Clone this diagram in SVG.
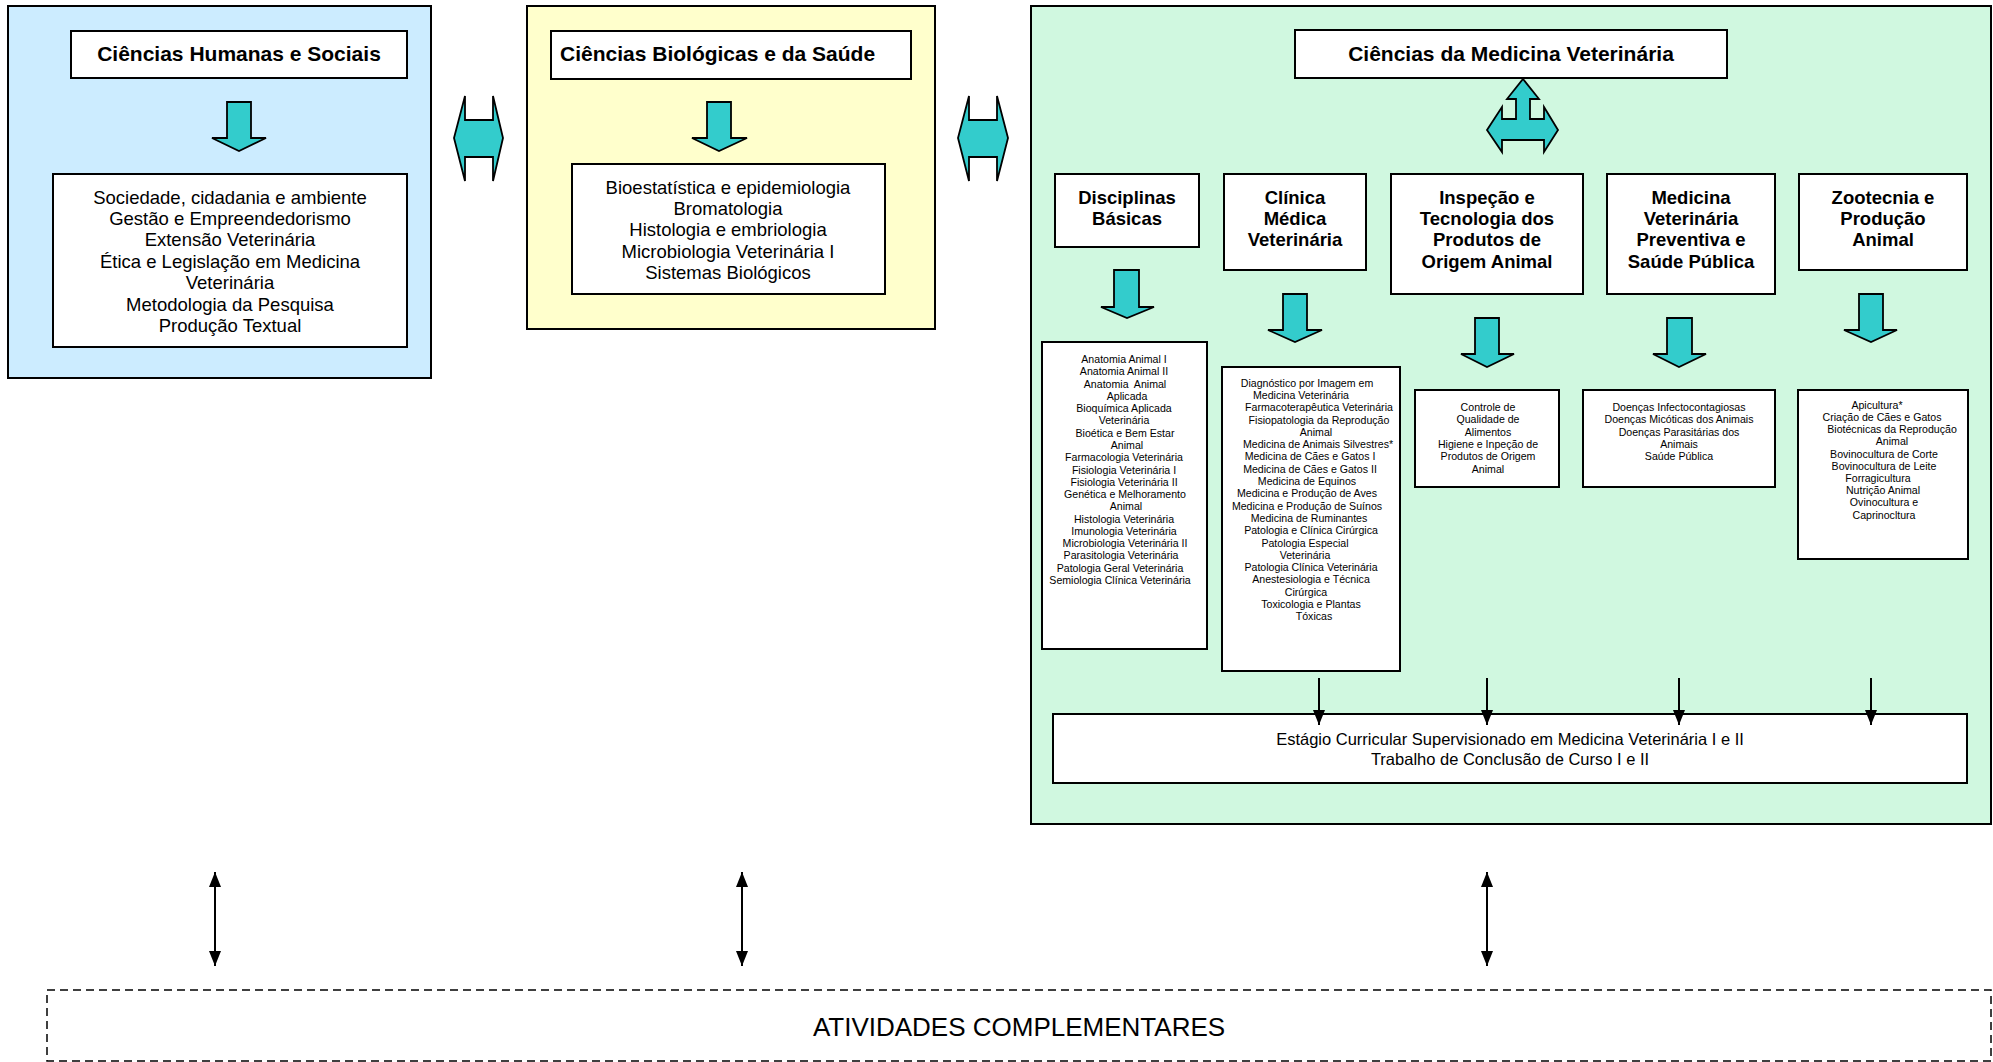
<svg xmlns="http://www.w3.org/2000/svg" width="1993" height="1062" viewBox="0 0 1993 1062">
<style>
text{font-family:"Liberation Sans",Arial,sans-serif;fill:#000}
.panel{stroke:#000;stroke-width:2}
.box{fill:#fff;stroke:#000;stroke-width:2}
.t{font-size:21px;font-weight:bold}
.h{font-size:18.5px;font-weight:bold;text-anchor:middle}
.b{font-size:18.5px;text-anchor:middle}
.s{font-size:10.6px;text-anchor:middle}
.e{font-size:16.5px;text-anchor:middle}
.big{font-size:26px;text-anchor:middle}
.ba{fill:#33CCCC;stroke:#000;stroke-width:1.8;stroke-linejoin:miter}
.ln{stroke:#000;stroke-width:2;fill:none}
</style>
<defs>
<marker id="ah" viewBox="0 0 15 12" refX="15" refY="6" markerWidth="7.5" markerHeight="6" markerUnits="strokeWidth" orient="auto-start-reverse">
<path d="M0,0 L15,6 L0,12 Z" fill="#000"/>
</marker>
</defs>

<g id="panel-humanas">
<rect class="panel" x="8" y="6" width="423" height="372" fill="#CCECFF"/>
<rect class="box" x="71" y="31" width="336" height="47"/>
<text class="t" x="239" y="61" text-anchor="middle">Ciências Humanas e Sociais</text>
<rect class="box" x="53" y="174" width="354" height="173"/>
<text class="b" x="230" y="203.5">Sociedade, cidadania e ambiente</text>
<text class="b" x="230" y="224.9">Gestão e Empreendedorismo</text>
<text class="b" x="230" y="246.3">Extensão Veterinária</text>
<text class="b" x="230" y="267.7">Ética e Legislação em Medicina</text>
<text class="b" x="230" y="289.1">Veterinária</text>
<text class="b" x="230" y="310.5">Metodologia da Pesquisa</text>
<text class="b" x="230" y="331.9">Produção Textual</text>
</g>

<g id="panel-biologicas">
<rect class="panel" x="527" y="6" width="408" height="323" fill="#FFFFCC"/>
<rect class="box" x="551" y="31" width="360" height="48"/>
<text class="t" x="560" y="61">Ciências Biológicas e da Saúde</text>
<rect class="box" x="572" y="164" width="313" height="130"/>
<text class="b" x="728" y="193.5">Bioestatística e epidemiologia</text>
<text class="b" x="728" y="214.9">Bromatologia</text>
<text class="b" x="728" y="236.3">Histologia e embriologia</text>
<text class="b" x="728" y="257.7">Microbiologia Veterinária I</text>
<text class="b" x="728" y="279.1">Sistemas Biológicos</text>
</g>

<g id="panel-medvet">
<rect class="panel" x="1031" y="6" width="960" height="818" fill="#D0F8E0"/>
<rect class="box" x="1295" y="30" width="432" height="48"/>
<text class="t" x="1511" y="61" text-anchor="middle">Ciências da Medicina Veterinária</text>
</g>

<g id="node-basicas">
<rect class="box" x="1055" y="174" width="144" height="73"/>
<text class="h" x="1127" y="203.5">Disciplinas</text>
<text class="h" x="1127" y="224.9">Básicas</text>
</g>
<g id="node-clinica">
<rect class="box" x="1224" y="174" width="142" height="96"/>
<text class="h" x="1295" y="203.5">Clínica</text>
<text class="h" x="1295" y="224.9">Médica</text>
<text class="h" x="1295" y="246.3">Veterinária</text>
</g>
<g id="node-inspecao">
<rect class="box" x="1391" y="174" width="192" height="120"/>
<text class="h" x="1487" y="203.5">Inspeção e</text>
<text class="h" x="1487" y="224.9">Tecnologia dos</text>
<text class="h" x="1487" y="246.3">Produtos de</text>
<text class="h" x="1487" y="267.7">Origem Animal</text>
</g>
<g id="node-preventiva">
<rect class="box" x="1607" y="174" width="168" height="120"/>
<text class="h" x="1691" y="203.5">Medicina</text>
<text class="h" x="1691" y="224.9">Veterinária</text>
<text class="h" x="1691" y="246.3">Preventiva e</text>
<text class="h" x="1691" y="267.7">Saúde Pública</text>
</g>
<g id="node-zootecnia">
<rect class="box" x="1799" y="174" width="168" height="96"/>
<text class="h" x="1883" y="203.5">Zootecnia e</text>
<text class="h" x="1883" y="224.9">Produção</text>
<text class="h" x="1883" y="246.3">Animal</text>
</g>

<g id="list-basicas">
<rect class="box" x="1042" y="342" width="165" height="307"/>
<text class="s" x="1124" y="363.1">Anatomia Animal I</text>
<text class="s" x="1124" y="375.4">Anatomia Animal II</text>
<text class="s" x="1125" y="387.6" xml:space="preserve">Anatomia  Animal</text>
<text class="s" x="1127" y="399.9">Aplicada</text>
<text class="s" x="1124" y="412.2">Bioquímica Aplicada</text>
<text class="s" x="1124" y="424.4">Veterinária</text>
<text class="s" x="1125" y="436.7">Bioética e Bem Estar</text>
<text class="s" x="1127" y="448.9">Animal</text>
<text class="s" x="1124" y="461.2">Farmacologia Veterinária</text>
<text class="s" x="1124" y="473.5">Fisiologia Veterinária I</text>
<text class="s" x="1124" y="485.7">Fisiologia Veterinária II</text>
<text class="s" x="1125" y="498.0">Genética e Melhoramento</text>
<text class="s" x="1126" y="510.3">Animal</text>
<text class="s" x="1124" y="522.5">Histologia Veterinária</text>
<text class="s" x="1124" y="534.8">Imunologia Veterinária</text>
<text class="s" x="1125" y="547.1">Microbiologia Veterinária II</text>
<text class="s" x="1121" y="559.3">Parasitologia Veterinária</text>
<text class="s" x="1120" y="571.6">Patologia Geral Veterinária</text>
<text class="s" x="1120" y="583.9">Semiologia Clínica Veterinária</text>
</g>

<g id="list-clinica">
<rect class="box" x="1222" y="367" width="178" height="304"/>
<text class="s" x="1307" y="386.6">Diagnóstico por Imagem em</text>
<text class="s" x="1301" y="398.9">Medicina Veterinária</text>
<text class="s" x="1319" y="411.2">Farmacoterapêutica Veterinária</text>
<text class="s" x="1319" y="423.5">Fisiopatologia da Reprodução</text>
<text class="s" x="1316" y="435.8">Animal</text>
<text class="s" x="1318" y="448.1">Medicina de Animais Silvestres*</text>
<text class="s" x="1310" y="460.4">Medicina de Cães e Gatos I</text>
<text class="s" x="1310" y="472.7">Medicina de Cães e Gatos II</text>
<text class="s" x="1307" y="485.0">Medicina de Equinos</text>
<text class="s" x="1307" y="497.3">Medicina e Produção de Aves</text>
<text class="s" x="1307" y="509.6">Medicina e Produção de Suínos</text>
<text class="s" x="1309" y="521.9">Medicina de Ruminantes</text>
<text class="s" x="1311" y="534.2">Patologia e Clínica Cirúrgica</text>
<text class="s" x="1305" y="546.5">Patologia Especial</text>
<text class="s" x="1305" y="558.8">Veterinária</text>
<text class="s" x="1311" y="571.1">Patologia Clínica Veterinária</text>
<text class="s" x="1311" y="583.4">Anestesiologia e Técnica</text>
<text class="s" x="1306" y="595.7">Cirúrgica</text>
<text class="s" x="1311" y="608.0">Toxicologia e Plantas</text>
<text class="s" x="1314" y="620.3">Tóxicas</text>
</g>

<g id="list-inspecao">
<rect class="box" x="1415" y="390" width="144" height="97"/>
<text class="s" x="1488" y="410.8">Controle de</text>
<text class="s" x="1488" y="423.2">Qualidade de</text>
<text class="s" x="1488" y="435.6">Alimentos</text>
<text class="s" x="1488" y="448.0">Higiene e Inpeção de</text>
<text class="s" x="1488" y="460.4">Produtos de Origem</text>
<text class="s" x="1488" y="472.8">Animal</text>
</g>

<g id="list-preventiva">
<rect class="box" x="1583" y="390" width="192" height="97"/>
<text class="s" x="1679" y="410.8">Doenças Infectocontagiosas</text>
<text class="s" x="1679" y="423.2">Doenças Micóticas dos Animais</text>
<text class="s" x="1679" y="435.6">Doenças Parasitárias dos</text>
<text class="s" x="1679" y="448.0">Animais</text>
<text class="s" x="1679" y="460.4">Saúde Pública</text>
</g>

<g id="list-zootecnia">
<rect class="box" x="1798" y="390" width="170" height="169"/>
<text class="s" x="1877" y="408.8">Apicultura*</text>
<text class="s" x="1882" y="421.0">Criação de Cães e Gatos</text>
<text class="s" x="1892" y="433.2">Biotécnicas da Reprodução</text>
<text class="s" x="1892" y="445.4">Animal</text>
<text class="s" x="1884" y="457.6">Bovinocultura de Corte</text>
<text class="s" x="1884" y="469.8">Bovinocultura de Leite</text>
<text class="s" x="1878" y="482.0">Forragicultura</text>
<text class="s" x="1883" y="494.2">Nutrição Animal</text>
<text class="s" x="1884" y="506.4">Ovinocultura e</text>
<text class="s" x="1884" y="518.6">Caprinocltura</text>
</g>

<g id="node-estagio">
<rect class="box" x="1053" y="714" width="914" height="69"/>
<text class="e" x="1510" y="745">Estágio Curricular Supervisionado em Medicina Veterinária I e II</text>
<text class="e" x="1510" y="765">Trabalho de Conclusão de Curso I e II</text>
</g>

<g id="node-atividades">
<rect x="47" y="990" width="1944" height="71" fill="#fff" stroke="#000" stroke-width="1.5" stroke-dasharray="8,5"/>
<text class="big" x="1019" y="1036">ATIVIDADES COMPLEMENTARES</text>
</g>

<g id="connectors">
<polygon class="ba" points="227,102 251,102 251,138 266,138 239,151 212,138 227,138"/>
<polygon class="ba" points="707,102 731,102 731,138 747,138 719,151 692,138 707,138"/>
<polygon class="ba" points="454,138 465,96 465,120 493,120 493,96 503,138 493,181 493,157 465,157 465,181"/>
<polygon class="ba" points="958,138 969,96 969,120 997,120 997,96 1008,138 997,181 997,157 969,157 969,181"/>
<polygon class="ba" points="1523,79 1539,99 1530,99 1530,119 1544,119 1544,107 1558,130 1544,152 1544,140 1502,140 1502,152 1487,130 1502,107 1502,119 1516,119 1516,99 1507,99"/>
<polygon class="ba" points="1114,270 1139,270 1139,307 1154,307 1127,318 1101,307 1114,307"/>
<polygon class="ba" points="1283,294 1307,294 1307,330 1322,330 1295,342 1268,330 1283,330"/>
<polygon class="ba" points="1475,318 1499,318 1499,354 1514,354 1487,367 1461,354 1475,354"/>
<polygon class="ba" points="1667,318 1692,318 1692,354 1706,354 1679,367 1653,354 1667,354"/>
<polygon class="ba" points="1859,294 1883,294 1883,330 1897,330 1871,342 1844,330 1859,330"/>
<line class="ln" x1="1319" y1="678" x2="1319" y2="725" marker-end="url(#ah)"/>
<line class="ln" x1="1487" y1="678" x2="1487" y2="725" marker-end="url(#ah)"/>
<line class="ln" x1="1679" y1="678" x2="1679" y2="725" marker-end="url(#ah)"/>
<line class="ln" x1="1871" y1="678" x2="1871" y2="725" marker-end="url(#ah)"/>
<line class="ln" x1="215" y1="872" x2="215" y2="966" marker-start="url(#ah)" marker-end="url(#ah)"/>
<line class="ln" x1="742" y1="872" x2="742" y2="966" marker-start="url(#ah)" marker-end="url(#ah)"/>
<line class="ln" x1="1487" y1="872" x2="1487" y2="966" marker-start="url(#ah)" marker-end="url(#ah)"/>
</g>
</svg>
